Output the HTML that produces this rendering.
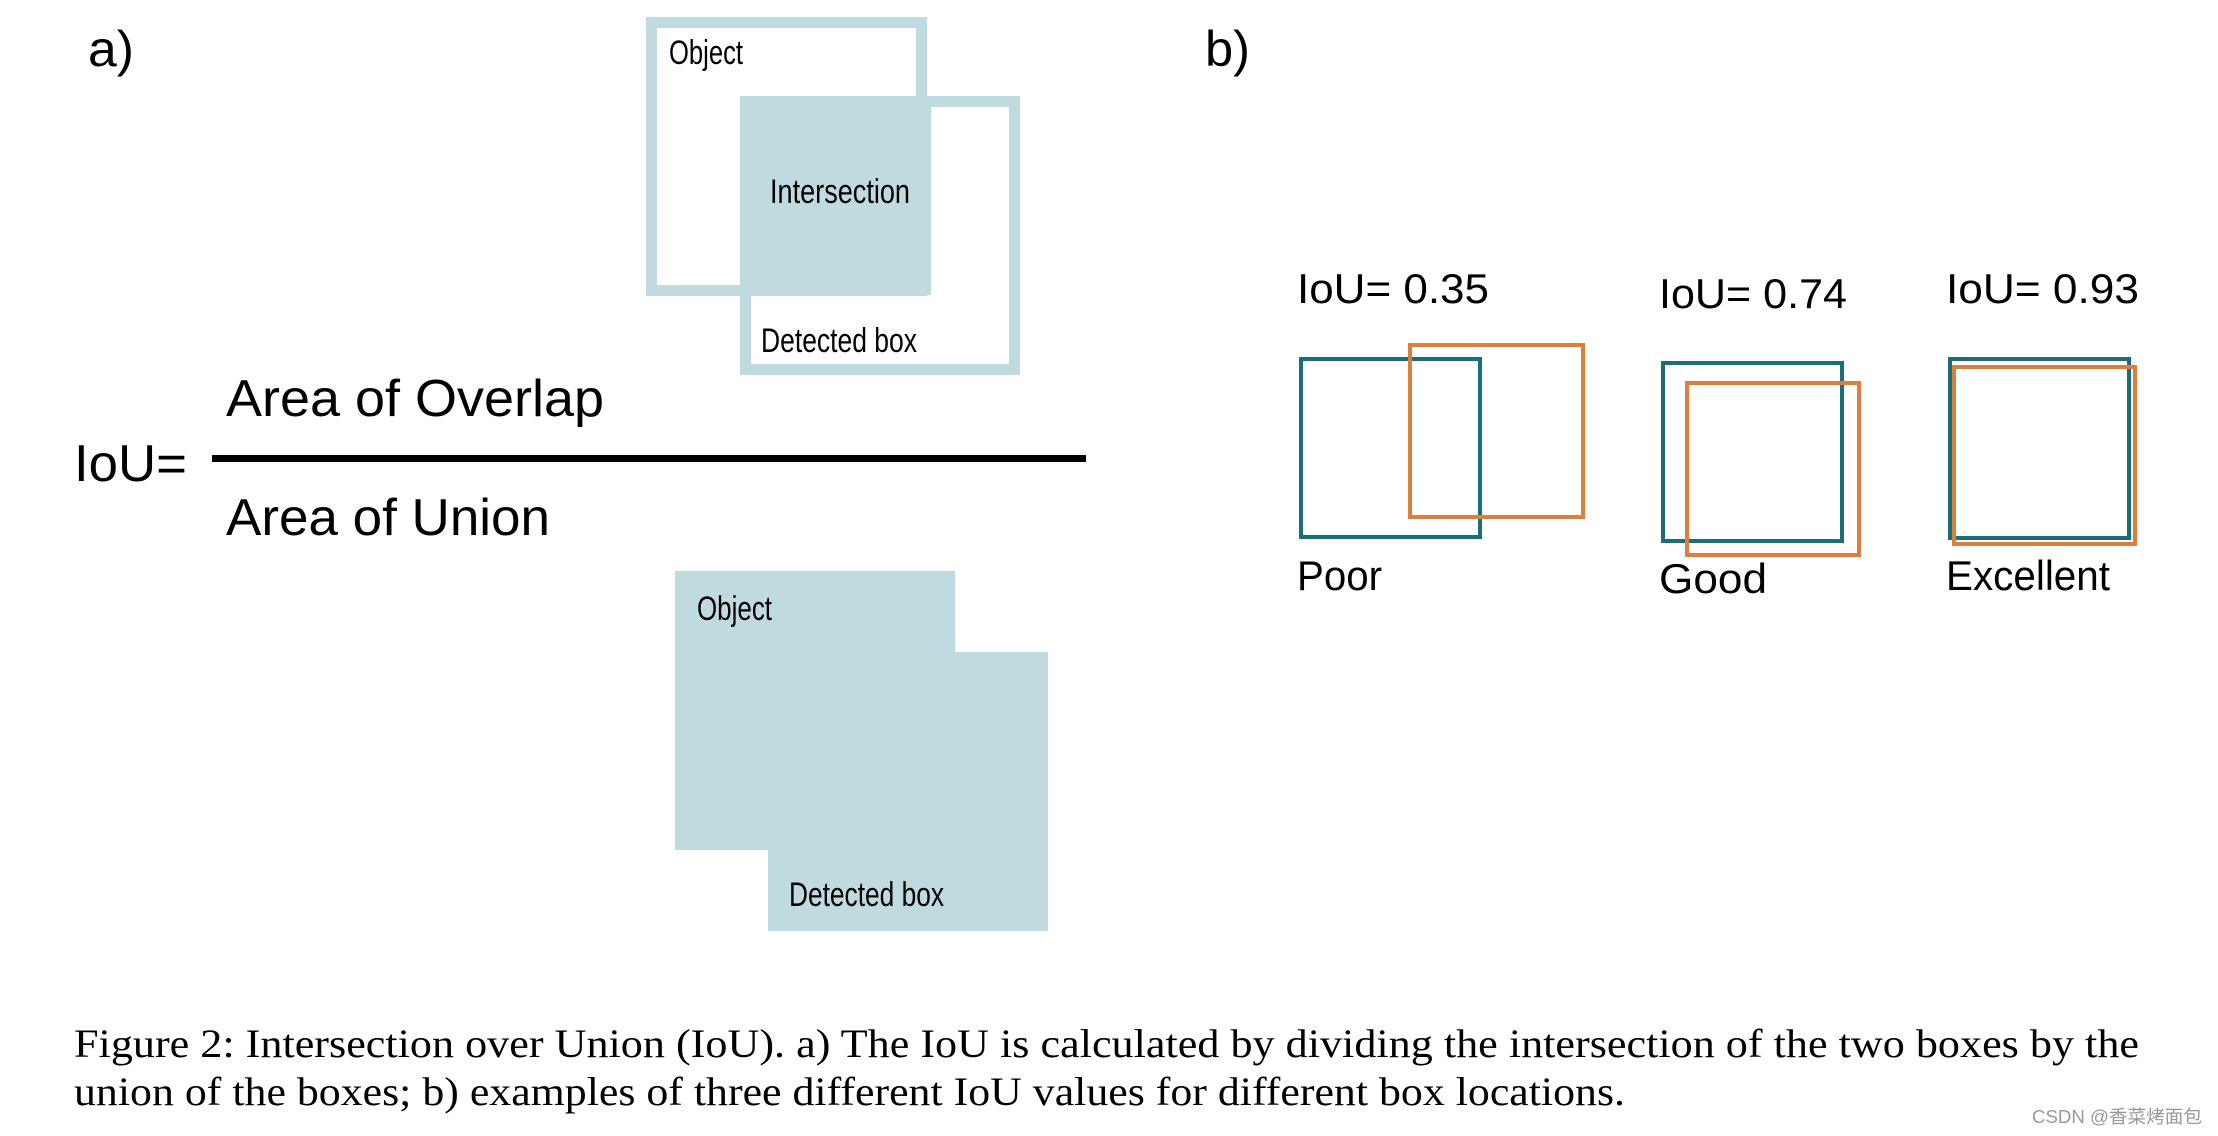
<!DOCTYPE html>
<html><head><meta charset="utf-8"><style>
html,body{margin:0;padding:0;background:#fff;}
svg{display:block;}
.s{font-family:"Liberation Sans",sans-serif;fill:#000;}
.c{font-family:"Liberation Serif",serif;fill:#000;}
</style></head><body>
<svg width="2218" height="1136" viewBox="0 0 2218 1136" xmlns="http://www.w3.org/2000/svg">
<rect width="2218" height="1136" fill="#fff"/>
<!-- a) top -->
<text class="s" x="88" y="66" font-size="50" textLength="46" lengthAdjust="spacingAndGlyphs">a)</text>
<rect x="745" y="101" width="186" height="194" fill="#c0dbe0"/>
<rect x="651.5" y="22.5" width="270" height="268" fill="none" stroke="#c0dbe0" stroke-width="11"/>
<rect x="745.5" y="101.5" width="269" height="268" fill="none" stroke="#c0dbe0" stroke-width="11"/>
<text class="s" x="669" y="64" font-size="34" textLength="74" lengthAdjust="spacingAndGlyphs">Object</text>
<text class="s" x="770" y="203" font-size="34" textLength="140" lengthAdjust="spacingAndGlyphs">Intersection</text>
<text class="s" x="761" y="352" font-size="34" textLength="156" lengthAdjust="spacingAndGlyphs">Detected box</text>
<!-- formula -->
<text class="s" x="226" y="416" font-size="52" textLength="378" lengthAdjust="spacingAndGlyphs">Area of Overlap</text>
<text class="s" x="74" y="481" font-size="52" textLength="113" lengthAdjust="spacingAndGlyphs">IoU=</text>
<rect x="212" y="455" width="874" height="7" fill="#000"/>
<text class="s" x="226" y="535" font-size="52" textLength="324" lengthAdjust="spacingAndGlyphs">Area of Union</text>
<!-- bottom union -->
<rect x="675" y="571" width="280" height="279" fill="#c0dbe0"/>
<rect x="768" y="652" width="280" height="279" fill="#c0dbe0"/>
<text class="s" x="697" y="620" font-size="34" textLength="75" lengthAdjust="spacingAndGlyphs">Object</text>
<text class="s" x="789" y="906" font-size="34" textLength="155" lengthAdjust="spacingAndGlyphs">Detected box</text>
<!-- b) -->
<text class="s" x="1205" y="66" font-size="50" textLength="45" lengthAdjust="spacingAndGlyphs">b)</text>
<text class="s" x="1297" y="303" font-size="42" textLength="192" lengthAdjust="spacingAndGlyphs">IoU= 0.35</text>
<text class="s" x="1659" y="308" font-size="42" textLength="188" lengthAdjust="spacingAndGlyphs">IoU= 0.74</text>
<text class="s" x="1946" y="303" font-size="42" textLength="193" lengthAdjust="spacingAndGlyphs">IoU= 0.93</text>
<g fill="none" stroke-width="4">
<rect x="1301" y="359" width="179" height="178" stroke="#1b6e78"/>
<rect x="1410" y="345" width="173" height="172" stroke="#dc7f3e"/>
<rect x="1663" y="363" width="179" height="178" stroke="#1b6e78"/>
<rect x="1687" y="383" width="172" height="172" stroke="#dc7f3e"/>
<rect x="1950" y="359" width="179" height="179" stroke="#1b6e78"/>
<rect x="1954" y="367" width="181" height="177" stroke="#dc7f3e"/>
</g>
<text class="s" x="1297" y="590" font-size="42" textLength="85" lengthAdjust="spacingAndGlyphs">Poor</text>
<text class="s" x="1659" y="593" font-size="42" textLength="108" lengthAdjust="spacingAndGlyphs">Good</text>
<text class="s" x="1946" y="590" font-size="42" textLength="164" lengthAdjust="spacingAndGlyphs">Excellent</text>
<!-- caption -->
<text class="c" x="74" y="1057" font-size="40" textLength="2065" lengthAdjust="spacingAndGlyphs">Figure 2: Intersection over Union (IoU). a) The IoU is calculated by dividing the intersection of the two boxes by the</text>
<text class="c" x="74" y="1105" font-size="40" textLength="1551" lengthAdjust="spacingAndGlyphs">union of the boxes; b) examples of three different IoU values for different box locations.</text>
<text x="2032" y="1123" font-size="18" fill="#999" font-family="'Liberation Sans','Noto Sans CJK SC',sans-serif" textLength="170" lengthAdjust="spacingAndGlyphs">CSDN @香菜烤面包</text>
</svg>
</body></html>
